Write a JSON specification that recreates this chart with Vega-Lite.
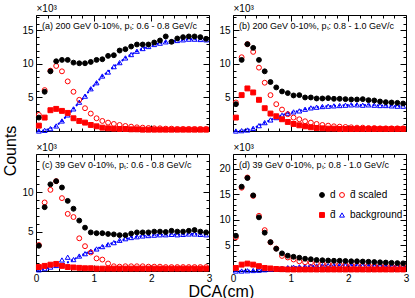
{
 "$schema": "https://vega.github.io/schema/vega-lite/v6.json",
 "padding": {"left": 3, "top": 2, "right": 0, "bottom": 0},
 "config": {
  "font": "Liberation Sans",
  "view": {"stroke": "#000000", "strokeWidth": 1},
  "axis": {"domain": false, "grid": false, "tickColor": "#000000", "tickWidth": 1, "labelColor": "#000000", "labelFontSize": 10, "labelOverlap": false, "labelFlush": false, "labelBound": false, "titleColor": "#000000", "titleFontWeight": "normal"},
  "title": {"color": "#000000", "fontWeight": "normal"},
  "legend": {"labelColor": "#000000"}
 },
 "datasets": {
  "pts": [
   {"p":"a","x":0.05,"d":2.0,"ds":2.4,"db":0.8,"bg":0.0,"bl":0.0},
   {"p":"a","x":0.15,"d":5.85,"ds":6.1,"db":2.0,"bg":0.1,"bl":0.1},
   {"p":"a","x":0.25,"d":8.9,"ds":9.0,"db":3.1,"bg":0.35,"bl":0.35},
   {"p":"a","x":0.35,"d":10.4,"ds":9.7,"db":3.3,"bg":0.75,"bl":0.75},
   {"p":"a","x":0.45,"d":10.6,"ds":8.9,"db":3.0,"bg":1.5,"bl":1.5},
   {"p":"a","x":0.55,"d":10.6,"ds":7.4,"db":2.7,"bg":2.4,"bl":2.4},
   {"p":"a","x":0.65,"d":10.2,"ds":5.85,"db":1.9,"bg":3.3,"bl":3.3},
   {"p":"a","x":0.75,"d":10.1,"ds":4.65,"db":1.5,"bg":4.3,"bl":4.3},
   {"p":"a","x":0.85,"d":10.1,"ds":3.4,"db":1.25,"bg":5.2,"bl":5.2},
   {"p":"a","x":0.95,"d":10.3,"ds":2.6,"db":0.9,"bg":6.3,"bl":6.3},
   {"p":"a","x":1.05,"d":10.6,"ds":1.9,"db":0.7,"bg":7.2,"bl":7.2},
   {"p":"a","x":1.15,"d":10.7,"ds":1.5,"db":0.5,"bg":8.2,"bl":8.2},
   {"p":"a","x":1.25,"d":11.2,"ds":1.25,"db":0.4,"bg":8.8,"bl":8.8},
   {"p":"a","x":1.35,"d":11.3,"ds":1.05,"db":0.35,"bg":9.6,"bl":9.6},
   {"p":"a","x":1.45,"d":12.0,"ds":0.9,"db":0.3,"bg":10.2,"bl":10.2},
   {"p":"a","x":1.55,"d":12.2,"ds":0.75,"db":0.3,"bg":10.9,"bl":10.9},
   {"p":"a","x":1.65,"d":12.6,"ds":0.65,"db":0.25,"bg":11.4,"bl":11.4},
   {"p":"a","x":1.75,"d":12.9,"ds":0.55,"db":0.25,"bg":11.9,"bl":11.9},
   {"p":"a","x":1.85,"d":12.9,"ds":0.5,"db":0.2,"bg":12.3,"bl":12.3},
   {"p":"a","x":1.95,"d":12.9,"ds":0.45,"db":0.2,"bg":12.6,"bl":12.6},
   {"p":"a","x":2.05,"d":13.2,"ds":0.4,"db":0.2,"bg":12.9,"bl":12.9},
   {"p":"a","x":2.15,"d":13.5,"ds":0.4,"db":0.2,"bg":13.1,"bl":13.1},
   {"p":"a","x":2.25,"d":14.1,"ds":0.35,"db":0.2,"bg":13.3,"bl":13.3},
   {"p":"a","x":2.35,"d":13.3,"ds":0.35,"db":0.2,"bg":13.4,"bl":13.4},
   {"p":"a","x":2.45,"d":13.8,"ds":0.3,"db":0.2,"bg":13.5,"bl":13.5},
   {"p":"a","x":2.55,"d":14.0,"ds":0.3,"db":0.2,"bg":13.6,"bl":13.6},
   {"p":"a","x":2.65,"d":14.1,"ds":0.3,"db":0.2,"bg":13.7,"bl":13.7},
   {"p":"a","x":2.75,"d":14.1,"ds":0.3,"db":0.2,"bg":13.7,"bl":13.7},
   {"p":"a","x":2.85,"d":14.0,"ds":0.3,"db":0.2,"bg":13.65,"bl":13.65},
   {"p":"a","x":2.95,"d":13.75,"ds":0.3,"db":0.2,"bg":13.6,"bl":13.6},

   {"p":"b","x":0.05,"d":4.0,"ds":4.25,"db":2.0,"bg":0.0,"bl":0.0},
   {"p":"b","x":0.15,"d":10.6,"ds":11.0,"db":5.35,"bg":0.05,"bl":0.05},
   {"p":"b","x":0.25,"d":12.95,"ds":12.95,"db":6.35,"bg":0.15,"bl":0.15},
   {"p":"b","x":0.35,"d":12.4,"ds":11.8,"db":5.75,"bg":0.4,"bl":0.4},
   {"p":"b","x":0.45,"d":10.6,"ds":9.45,"db":4.65,"bg":0.8,"bl":0.8},
   {"p":"b","x":0.55,"d":8.9,"ds":7.2,"db":3.4,"bg":1.25,"bl":1.25},
   {"p":"b","x":0.65,"d":7.3,"ds":5.35,"db":2.6,"bg":1.65,"bl":1.65},
   {"p":"b","x":0.75,"d":6.5,"ds":4.0,"db":2.2,"bg":2.0,"bl":2.0},
   {"p":"b","x":0.85,"d":5.9,"ds":3.2,"db":1.75,"bg":2.35,"bl":2.35},
   {"p":"b","x":0.95,"d":5.65,"ds":2.5,"db":1.35,"bg":2.65,"bl":2.65},
   {"p":"b","x":1.05,"d":5.3,"ds":2.0,"db":1.05,"bg":2.85,"bl":2.85},
   {"p":"b","x":1.15,"d":5.35,"ds":1.75,"db":0.85,"bg":3.0,"bl":3.0},
   {"p":"b","x":1.25,"d":5.0,"ds":1.45,"db":0.7,"bg":3.25,"bl":3.25},
   {"p":"b","x":1.35,"d":5.0,"ds":1.25,"db":0.55,"bg":3.45,"bl":3.45},
   {"p":"b","x":1.45,"d":4.85,"ds":1.05,"db":0.45,"bg":3.55,"bl":3.55},
   {"p":"b","x":1.55,"d":4.85,"ds":0.9,"db":0.4,"bg":3.65,"bl":3.65},
   {"p":"b","x":1.65,"d":4.9,"ds":0.8,"db":0.35,"bg":3.7,"bl":3.7},
   {"p":"b","x":1.75,"d":4.8,"ds":0.7,"db":0.35,"bg":3.75,"bl":3.75},
   {"p":"b","x":1.85,"d":4.8,"ds":0.65,"db":0.3,"bg":3.8,"bl":3.8},
   {"p":"b","x":1.95,"d":4.75,"ds":0.6,"db":0.3,"bg":3.85,"bl":3.85},
   {"p":"b","x":2.05,"d":4.7,"ds":0.55,"db":0.3,"bg":3.9,"bl":3.9},
   {"p":"b","x":2.15,"d":4.7,"ds":0.5,"db":0.3,"bg":3.9,"bl":3.9},
   {"p":"b","x":2.25,"d":4.75,"ds":0.5,"db":0.3,"bg":3.85,"bl":3.85},
   {"p":"b","x":2.35,"d":4.6,"ds":0.45,"db":0.3,"bg":3.9,"bl":3.9},
   {"p":"b","x":2.45,"d":4.55,"ds":0.45,"db":0.3,"bg":3.85,"bl":3.85},
   {"p":"b","x":2.55,"d":4.4,"ds":0.4,"db":0.3,"bg":3.8,"bl":3.8},
   {"p":"b","x":2.65,"d":4.3,"ds":0.4,"db":0.3,"bg":3.8,"bl":3.8},
   {"p":"b","x":2.75,"d":4.25,"ds":0.4,"db":0.3,"bg":3.75,"bl":3.75},
   {"p":"b","x":2.85,"d":4.2,"ds":0.4,"db":0.3,"bg":3.7,"bl":3.7},
   {"p":"b","x":2.95,"d":4.1,"ds":0.4,"db":0.3,"bg":3.7,"bl":3.7},

   {"p":"c","x":0.05,"d":3.2,"ds":3.3,"db":0.5,"bg":0.15,"bl":0.15},
   {"p":"c","x":0.15,"d":8.1,"ds":8.7,"db":0.65,"bg":0.3,"bl":0.3},
   {"p":"c","x":0.25,"d":11.0,"ds":10.3,"db":0.8,"bg":0.5,"bl":0.5},
   {"p":"c","x":0.35,"d":11.4,"ds":11.4,"db":0.9,"bg":0.7,"bl":0.65},
   {"p":"c","x":0.45,"d":10.6,"ds":9.25,"db":0.65,"bg":1.4,"bl":0.8},
   {"p":"c","x":0.55,"d":8.9,"ds":7.25,"db":0.5,"bg":1.75,"bl":1.1},
   {"p":"c","x":0.65,"d":7.9,"ds":6.85,"db":0.45,"bg":1.45,"bl":1.45},
   {"p":"c","x":0.75,"d":6.4,"ds":4.15,"db":0.4,"bg":1.9,"bl":1.85},
   {"p":"c","x":0.85,"d":5.5,"ds":3.15,"db":0.35,"bg":2.2,"bl":2.2},
   {"p":"c","x":0.95,"d":4.9,"ds":2.35,"db":0.35,"bg":2.5,"bl":2.5},
   {"p":"c","x":1.05,"d":4.8,"ds":1.6,"db":0.3,"bg":2.8,"bl":2.8},
   {"p":"c","x":1.15,"d":4.8,"ds":1.45,"db":0.3,"bg":3.1,"bl":3.1},
   {"p":"c","x":1.25,"d":4.7,"ds":0.95,"db":0.3,"bg":3.35,"bl":3.35},
   {"p":"c","x":1.35,"d":4.65,"ds":0.6,"db":0.3,"bg":3.6,"bl":3.6},
   {"p":"c","x":1.45,"d":4.55,"ds":0.55,"db":0.3,"bg":3.9,"bl":3.85},
   {"p":"c","x":1.55,"d":4.55,"ds":0.6,"db":0.3,"bg":4.1,"bl":4.05},
   {"p":"c","x":1.65,"d":4.75,"ds":0.6,"db":0.3,"bg":4.25,"bl":4.25},
   {"p":"c","x":1.75,"d":4.9,"ds":0.6,"db":0.3,"bg":4.35,"bl":4.35},
   {"p":"c","x":1.85,"d":4.9,"ds":0.6,"db":0.3,"bg":4.45,"bl":4.45},
   {"p":"c","x":1.95,"d":4.9,"ds":0.55,"db":0.3,"bg":4.5,"bl":4.5},
   {"p":"c","x":2.05,"d":5.0,"ds":0.55,"db":0.3,"bg":4.55,"bl":4.55},
   {"p":"c","x":2.15,"d":5.0,"ds":0.55,"db":0.3,"bg":4.6,"bl":4.6},
   {"p":"c","x":2.25,"d":4.95,"ds":0.5,"db":0.3,"bg":4.6,"bl":4.6},
   {"p":"c","x":2.35,"d":5.1,"ds":0.5,"db":0.3,"bg":4.65,"bl":4.65},
   {"p":"c","x":2.45,"d":5.0,"ds":0.5,"db":0.3,"bg":4.6,"bl":4.6},
   {"p":"c","x":2.55,"d":5.0,"ds":0.5,"db":0.3,"bg":4.65,"bl":4.65},
   {"p":"c","x":2.65,"d":5.1,"ds":0.5,"db":0.3,"bg":4.7,"bl":4.7},
   {"p":"c","x":2.75,"d":5.2,"ds":0.5,"db":0.3,"bg":4.7,"bl":4.7},
   {"p":"c","x":2.85,"d":5.0,"ds":0.5,"db":0.3,"bg":4.65,"bl":4.65},
   {"p":"c","x":2.95,"d":4.9,"ds":0.5,"db":0.3,"bg":4.6,"bl":4.6},

   {"p":"d","x":0.05,"d":6.9,"ds":6.6,"db":0.6,"bg":0.0,"bl":0.0},
   {"p":"d","x":0.15,"d":16.5,"ds":16.3,"db":1.25,"bg":0.0,"bl":0.0},
   {"p":"d","x":0.25,"d":18.2,"ds":18.3,"db":1.45,"bg":0.05,"bl":0.05},
   {"p":"d","x":0.35,"d":14.8,"ds":14.7,"db":1.25,"bg":0.1,"bl":0.1},
   {"p":"d","x":0.45,"d":10.5,"ds":10.8,"db":0.95,"bg":0.15,"bl":0.15},
   {"p":"d","x":0.55,"d":7.5,"ds":8.0,"db":0.6,"bg":0.25,"bl":0.25},
   {"p":"d","x":0.65,"d":5.65,"ds":5.6,"db":0.5,"bg":0.35,"bl":0.35},
   {"p":"d","x":0.75,"d":4.35,"ds":4.4,"db":0.4,"bg":0.45,"bl":0.45},
   {"p":"d","x":0.85,"d":3.45,"ds":2.95,"db":0.35,"bg":0.55,"bl":0.55},
   {"p":"d","x":0.95,"d":3.0,"ds":2.65,"db":0.3,"bg":0.65,"bl":0.65},
   {"p":"d","x":1.05,"d":2.78,"ds":2.25,"db":0.3,"bg":0.75,"bl":0.75},
   {"p":"d","x":1.15,"d":2.6,"ds":1.9,"db":0.3,"bg":0.8,"bl":0.8},
   {"p":"d","x":1.25,"d":2.4,"ds":1.7,"db":0.3,"bg":0.9,"bl":0.9},
   {"p":"d","x":1.35,"d":2.3,"ds":1.6,"db":0.3,"bg":0.95,"bl":0.95},
   {"p":"d","x":1.45,"d":2.15,"ds":1.5,"db":0.3,"bg":1.0,"bl":1.0},
   {"p":"d","x":1.55,"d":2.1,"ds":1.4,"db":0.3,"bg":1.05,"bl":1.05},
   {"p":"d","x":1.65,"d":2.05,"ds":1.35,"db":0.3,"bg":1.05,"bl":1.05},
   {"p":"d","x":1.75,"d":2.0,"ds":1.3,"db":0.3,"bg":1.1,"bl":1.1},
   {"p":"d","x":1.85,"d":2.0,"ds":1.25,"db":0.3,"bg":1.1,"bl":1.1},
   {"p":"d","x":1.95,"d":1.95,"ds":1.2,"db":0.3,"bg":1.1,"bl":1.1},
   {"p":"d","x":2.05,"d":1.9,"ds":1.15,"db":0.3,"bg":1.1,"bl":1.1},
   {"p":"d","x":2.15,"d":1.9,"ds":1.1,"db":0.3,"bg":1.1,"bl":1.1},
   {"p":"d","x":2.25,"d":1.85,"ds":1.1,"db":0.3,"bg":1.05,"bl":1.05},
   {"p":"d","x":2.35,"d":1.8,"ds":1.05,"db":0.3,"bg":1.05,"bl":1.05},
   {"p":"d","x":2.45,"d":1.75,"ds":1.0,"db":0.3,"bg":1.05,"bl":1.05},
   {"p":"d","x":2.55,"d":1.7,"ds":1.0,"db":0.3,"bg":1.0,"bl":1.0},
   {"p":"d","x":2.65,"d":1.65,"ds":1.0,"db":0.3,"bg":1.0,"bl":1.0},
   {"p":"d","x":2.75,"d":1.6,"ds":0.95,"db":0.3,"bg":1.0,"bl":1.0},
   {"p":"d","x":2.85,"d":1.55,"ds":0.95,"db":0.3,"bg":0.95,"bl":0.95},
   {"p":"d","x":2.95,"d":1.5,"ds":0.9,"db":0.3,"bg":0.95,"bl":0.95}
  ]
 },
 "data": {"name": "pts"},
 "title": {"text": "Counts", "orient": "left", "anchor": "middle", "fontSize": 16, "offset": 2},
 "vconcat": [
  {
   "title": {"text": "DCA(cm)", "orient": "bottom", "anchor": "middle", "fontSize": 16, "offset": -3, "dx": 6},
   "columns": 2,
   "bounds": "flush",
   "spacing": {"row": 23, "column": 24},
   "resolve": {"legend": {"shape": "independent", "fill": "independent", "stroke": "independent"}},
   "concat": [
      {
       "width": 173, "height": 116,
       "title": {"text": "(a) 200 GeV 0-10%, pₜ: 0.6 - 0.8 GeV/c", "anchor": "start", "frame": "group", "offset": -28, "dx": 6, "fontSize": 9},
       "transform": [{"filter": "datum.p == 'a'"}],
       "resolve": {"axis": {"x": "independent", "y": "independent"}},
       "layer": [
        {"mark": {"type": "line", "color": "#0000ff", "strokeWidth": 2.2, "strokeDash": [0.1, 4.2], "strokeCap": "round"},
         "encoding": {
          "x": {"field": "x", "type": "quantitative", "scale": {"domain": [0, 3], "nice": false}, "axis": {"orient": "top", "title": null, "labels": false, "values": [0,0.2,0.4,0.6,0.8,1,1.2,1.4,1.6,1.8,2,2.2,2.4,2.6,2.8,3], "tickSize": {"condition": {"test": "datum.value % 1 === 0", "value": -6}, "value": -3}}},
          "y": {"field": "bl", "type": "quantitative", "scale": {"domain": [0, 17.3], "nice": false}, "axis": {"orient": "right", "title": null, "labels": false, "values": [0,1,2,3,4,5,6,7,8,9,10,11,12,13,14,15,16,17], "tickSize": {"condition": {"test": "datum.value % 5 === 0", "value": -6}, "value": -3}}}
         }},
        {"transform": [{"fold": ["bg", "db", "ds", "d"], "as": ["s", "y"]}],
         "mark": {"type": "point", "size": 24, "strokeWidth": 1, "opacity": 1},
         "encoding": {
          "x": {"field": "x", "type": "quantitative", "scale": {"domain": [0, 3], "nice": false}, "axis": {"orient": "bottom", "title": null, "labels": false, "values": [0,0.2,0.4,0.6,0.8,1,1.2,1.4,1.6,1.8,2,2.2,2.4,2.6,2.8,3], "tickSize": {"condition": {"test": "datum.value % 1 === 0", "value": -6}, "value": -3}}},
          "y": {"field": "y", "type": "quantitative", "scale": {"domain": [0, 17.3], "nice": false}, "axis": {"orient": "left", "title": "×10³", "titleAngle": 0, "titleAlign": "left", "titleBaseline": "bottom", "titleX": 0, "titleY": -2, "titleFontSize": 10, "values": [0,1,2,3,4,5,6,7,8,9,10,11,12,13,14,15,16,17], "tickSize": {"condition": {"test": "datum.value % 5 === 0", "value": -6}, "value": -3}, "labelPadding": 9, "labelExpr": "datum.value % 5 === 0 && datum.value > 0 ? format(datum.value, 'd') : ''"}},
          "shape": {"field": "s", "type": "nominal", "scale": {"domain": ["d", "db", "ds", "bg"], "range": ["circle", "square", "circle", "triangle-up"]}, "legend": null},
          "fill": {"field": "s", "type": "nominal", "scale": {"domain": ["d", "db", "ds", "bg"], "range": ["#000000", "#ff0000", "transparent", "transparent"]}, "legend": null},
          "stroke": {"field": "s", "type": "nominal", "scale": {"domain": ["d", "db", "ds", "bg"], "range": ["#000000", "#ff0000", "#ff0000", "#0000ff"]}, "legend": null}
         }}
       ]
      },
      {
       "width": 173, "height": 116,
       "title": {"text": "(b) 200 GeV 0-10%, pₜ: 0.8 - 1.0 GeV/c", "anchor": "start", "frame": "group", "offset": -28, "dx": 6, "fontSize": 9},
       "transform": [{"filter": "datum.p == 'b'"}],
       "resolve": {"axis": {"x": "independent", "y": "independent"}},
       "layer": [
        {"mark": {"type": "line", "color": "#0000ff", "strokeWidth": 2.2, "strokeDash": [0.1, 4.2], "strokeCap": "round"},
         "encoding": {
          "x": {"field": "x", "type": "quantitative", "scale": {"domain": [0, 3], "nice": false}, "axis": {"orient": "top", "title": null, "labels": false, "values": [0,0.2,0.4,0.6,0.8,1,1.2,1.4,1.6,1.8,2,2.2,2.4,2.6,2.8,3], "tickSize": {"condition": {"test": "datum.value % 1 === 0", "value": -6}, "value": -3}}},
          "y": {"field": "bl", "type": "quantitative", "scale": {"domain": [0, 17.3], "nice": false}, "axis": {"orient": "right", "title": null, "labels": false, "values": [0,1,2,3,4,5,6,7,8,9,10,11,12,13,14,15,16,17], "tickSize": {"condition": {"test": "datum.value % 5 === 0", "value": -6}, "value": -3}}}
         }},
        {"transform": [{"fold": ["bg", "db", "ds", "d"], "as": ["s", "y"]}],
         "mark": {"type": "point", "size": 24, "strokeWidth": 1, "opacity": 1},
         "encoding": {
          "x": {"field": "x", "type": "quantitative", "scale": {"domain": [0, 3], "nice": false}, "axis": {"orient": "bottom", "title": null, "labels": false, "values": [0,0.2,0.4,0.6,0.8,1,1.2,1.4,1.6,1.8,2,2.2,2.4,2.6,2.8,3], "tickSize": {"condition": {"test": "datum.value % 1 === 0", "value": -6}, "value": -3}}},
          "y": {"field": "y", "type": "quantitative", "scale": {"domain": [0, 17.3], "nice": false}, "axis": {"orient": "left", "title": "×10³", "titleAngle": 0, "titleAlign": "left", "titleBaseline": "bottom", "titleX": 0, "titleY": -2, "titleFontSize": 10, "values": [0,1,2,3,4,5,6,7,8,9,10,11,12,13,14,15,16,17], "tickSize": {"condition": {"test": "datum.value % 5 === 0", "value": -6}, "value": -3}, "labelPadding": 9, "labelExpr": "datum.value % 5 === 0 && datum.value > 0 ? format(datum.value, 'd') : ''"}},
          "shape": {"field": "s", "type": "nominal", "scale": {"domain": ["d", "db", "ds", "bg"], "range": ["circle", "square", "circle", "triangle-up"]}, "legend": null},
          "fill": {"field": "s", "type": "nominal", "scale": {"domain": ["d", "db", "ds", "bg"], "range": ["#000000", "#ff0000", "transparent", "transparent"]}, "legend": null},
          "stroke": {"field": "s", "type": "nominal", "scale": {"domain": ["d", "db", "ds", "bg"], "range": ["#000000", "#ff0000", "#ff0000", "#0000ff"]}, "legend": null}
         }}
       ]
      },
      {
       "width": 173, "height": 117,
       "title": {"text": "(c) 39 GeV 0-10%, pₜ: 0.6 - 0.8 GeV/c", "anchor": "start", "frame": "group", "offset": -28, "dx": 6, "fontSize": 9},
       "transform": [{"filter": "datum.p == 'c'"}],
       "resolve": {"axis": {"x": "independent", "y": "independent"}},
       "layer": [
        {"mark": {"type": "line", "color": "#0000ff", "strokeWidth": 2.2, "strokeDash": [0.1, 4.2], "strokeCap": "round"},
         "encoding": {
          "x": {"field": "x", "type": "quantitative", "scale": {"domain": [0, 3], "nice": false}, "axis": {"orient": "top", "title": null, "labels": false, "values": [0,0.2,0.4,0.6,0.8,1,1.2,1.4,1.6,1.8,2,2.2,2.4,2.6,2.8,3], "tickSize": {"condition": {"test": "datum.value % 1 === 0", "value": -6}, "value": -3}}},
          "y": {"field": "bl", "type": "quantitative", "scale": {"domain": [0, 14.85], "nice": false}, "axis": {"orient": "right", "title": null, "labels": false, "values": [0,1,2,3,4,5,6,7,8,9,10,11,12,13,14], "tickSize": {"condition": {"test": "datum.value % 5 === 0", "value": -6}, "value": -3}}}
         }},
        {"transform": [{"fold": ["bg", "db", "ds", "d"], "as": ["s", "y"]}],
         "mark": {"type": "point", "size": 24, "strokeWidth": 1, "opacity": 1},
         "encoding": {
          "x": {"field": "x", "type": "quantitative", "scale": {"domain": [0, 3], "nice": false}, "axis": {"orient": "bottom", "title": null, "values": [0,0.2,0.4,0.6,0.8,1,1.2,1.4,1.6,1.8,2,2.2,2.4,2.6,2.8,3], "tickSize": {"condition": {"test": "datum.value % 1 === 0", "value": -6}, "value": -3}, "labelPadding": 8, "labelExpr": "datum.value % 1 === 0 ? format(datum.value, 'd') : ''"}},
          "y": {"field": "y", "type": "quantitative", "scale": {"domain": [0, 14.85], "nice": false}, "axis": {"orient": "left", "title": "×10³", "titleAngle": 0, "titleAlign": "left", "titleBaseline": "bottom", "titleX": 0, "titleY": -2, "titleFontSize": 10, "values": [0,1,2,3,4,5,6,7,8,9,10,11,12,13,14], "tickSize": {"condition": {"test": "datum.value % 5 === 0", "value": -6}, "value": -3}, "labelPadding": 9, "labelExpr": "datum.value % 5 === 0 && datum.value > 0 ? format(datum.value, 'd') : ''"}},
          "shape": {"field": "s", "type": "nominal", "scale": {"domain": ["d", "db", "ds", "bg"], "range": ["circle", "square", "circle", "triangle-up"]}, "legend": null},
          "fill": {"field": "s", "type": "nominal", "scale": {"domain": ["d", "db", "ds", "bg"], "range": ["#000000", "#ff0000", "transparent", "transparent"]}, "legend": null},
          "stroke": {"field": "s", "type": "nominal", "scale": {"domain": ["d", "db", "ds", "bg"], "range": ["#000000", "#ff0000", "#ff0000", "#0000ff"]}, "legend": null}
         }}
       ]
      },
      {
       "width": 173, "height": 117,
       "title": {"text": "(d) 39 GeV 0-10%, pₜ: 0.8 - 1.0 GeV/c", "anchor": "start", "frame": "group", "offset": -28, "dx": 6, "fontSize": 9},
       "transform": [{"filter": "datum.p == 'd'"}],
       "resolve": {"axis": {"x": "independent", "y": "independent"}},
       "layer": [
        {"mark": {"type": "line", "color": "#0000ff", "strokeWidth": 2.2, "strokeDash": [0.1, 4.2], "strokeCap": "round"},
         "encoding": {
          "x": {"field": "x", "type": "quantitative", "scale": {"domain": [0, 3], "nice": false}, "axis": {"orient": "top", "title": null, "labels": false, "values": [0,0.2,0.4,0.6,0.8,1,1.2,1.4,1.6,1.8,2,2.2,2.4,2.6,2.8,3], "tickSize": {"condition": {"test": "datum.value % 1 === 0", "value": -6}, "value": -3}}},
          "y": {"field": "bl", "type": "quantitative", "scale": {"domain": [0, 22.9], "nice": false}, "axis": {"orient": "right", "title": null, "labels": false, "values": [0,1,2,3,4,5,6,7,8,9,10,11,12,13,14,15,16,17,18,19,20,21,22], "tickSize": {"condition": {"test": "datum.value % 5 === 0", "value": -6}, "value": -3}}}
         }},
        {"transform": [{"fold": ["bg", "db", "ds", "d"], "as": ["s", "y"]}],
         "mark": {"type": "point", "size": 24, "strokeWidth": 1, "opacity": 1},
         "encoding": {
          "x": {"field": "x", "type": "quantitative", "scale": {"domain": [0, 3], "nice": false}, "axis": {"orient": "bottom", "title": null, "values": [0,0.2,0.4,0.6,0.8,1,1.2,1.4,1.6,1.8,2,2.2,2.4,2.6,2.8,3], "tickSize": {"condition": {"test": "datum.value % 1 === 0", "value": -6}, "value": -3}, "labelPadding": 8, "labelExpr": "datum.value % 1 === 0 ? format(datum.value, 'd') : ''"}},
          "y": {"field": "y", "type": "quantitative", "scale": {"domain": [0, 22.9], "nice": false}, "axis": {"orient": "left", "title": "×10³", "titleAngle": 0, "titleAlign": "left", "titleBaseline": "bottom", "titleX": 0, "titleY": -2, "titleFontSize": 10, "values": [0,1,2,3,4,5,6,7,8,9,10,11,12,13,14,15,16,17,18,19,20,21,22], "tickSize": {"condition": {"test": "datum.value % 5 === 0", "value": -6}, "value": -3}, "labelPadding": 9, "labelExpr": "datum.value % 5 === 0 && datum.value > 0 ? format(datum.value, 'd') : ''"}},
          "shape": {"field": "s", "type": "nominal", "scale": {"domain": ["d", "db", "ds", "bg"], "range": ["circle", "square", "circle", "triangle-up"]}, "legend": {"title": null, "orient": "none", "legendX": 84, "legendY": 36, "columns": 2, "columnPadding": 1, "rowPadding": 10, "symbolSize": 24, "symbolStrokeWidth": 1, "labelFontSize": 10, "labelOffset": 3, "padding": 0, "labelExpr": "datum.label == 'd' ? 'd' : datum.label == 'ds' ? 'd\u0304 scaled' : datum.label == 'db' ? 'd\u0304' : 'background'"}},
          "fill": {"field": "s", "type": "nominal", "scale": {"domain": ["d", "db", "ds", "bg"], "range": ["#000000", "#ff0000", "transparent", "transparent"]}, "legend": {"title": null, "orient": "none", "legendX": 84, "legendY": 36, "columns": 2, "columnPadding": 1, "rowPadding": 10, "symbolSize": 24, "symbolStrokeWidth": 1, "labelFontSize": 10, "labelOffset": 3, "padding": 0, "labelExpr": "datum.label == 'd' ? 'd' : datum.label == 'ds' ? 'd\u0304 scaled' : datum.label == 'db' ? 'd\u0304' : 'background'"}},
          "stroke": {"field": "s", "type": "nominal", "scale": {"domain": ["d", "db", "ds", "bg"], "range": ["#000000", "#ff0000", "#ff0000", "#0000ff"]}, "legend": {"title": null, "orient": "none", "legendX": 84, "legendY": 36, "columns": 2, "columnPadding": 1, "rowPadding": 10, "symbolSize": 24, "symbolStrokeWidth": 1, "labelFontSize": 10, "labelOffset": 3, "padding": 0, "labelExpr": "datum.label == 'd' ? 'd' : datum.label == 'ds' ? 'd\u0304 scaled' : datum.label == 'db' ? 'd\u0304' : 'background'"}}
         }}
       ]
      }
   ]
  }
 ]
}
